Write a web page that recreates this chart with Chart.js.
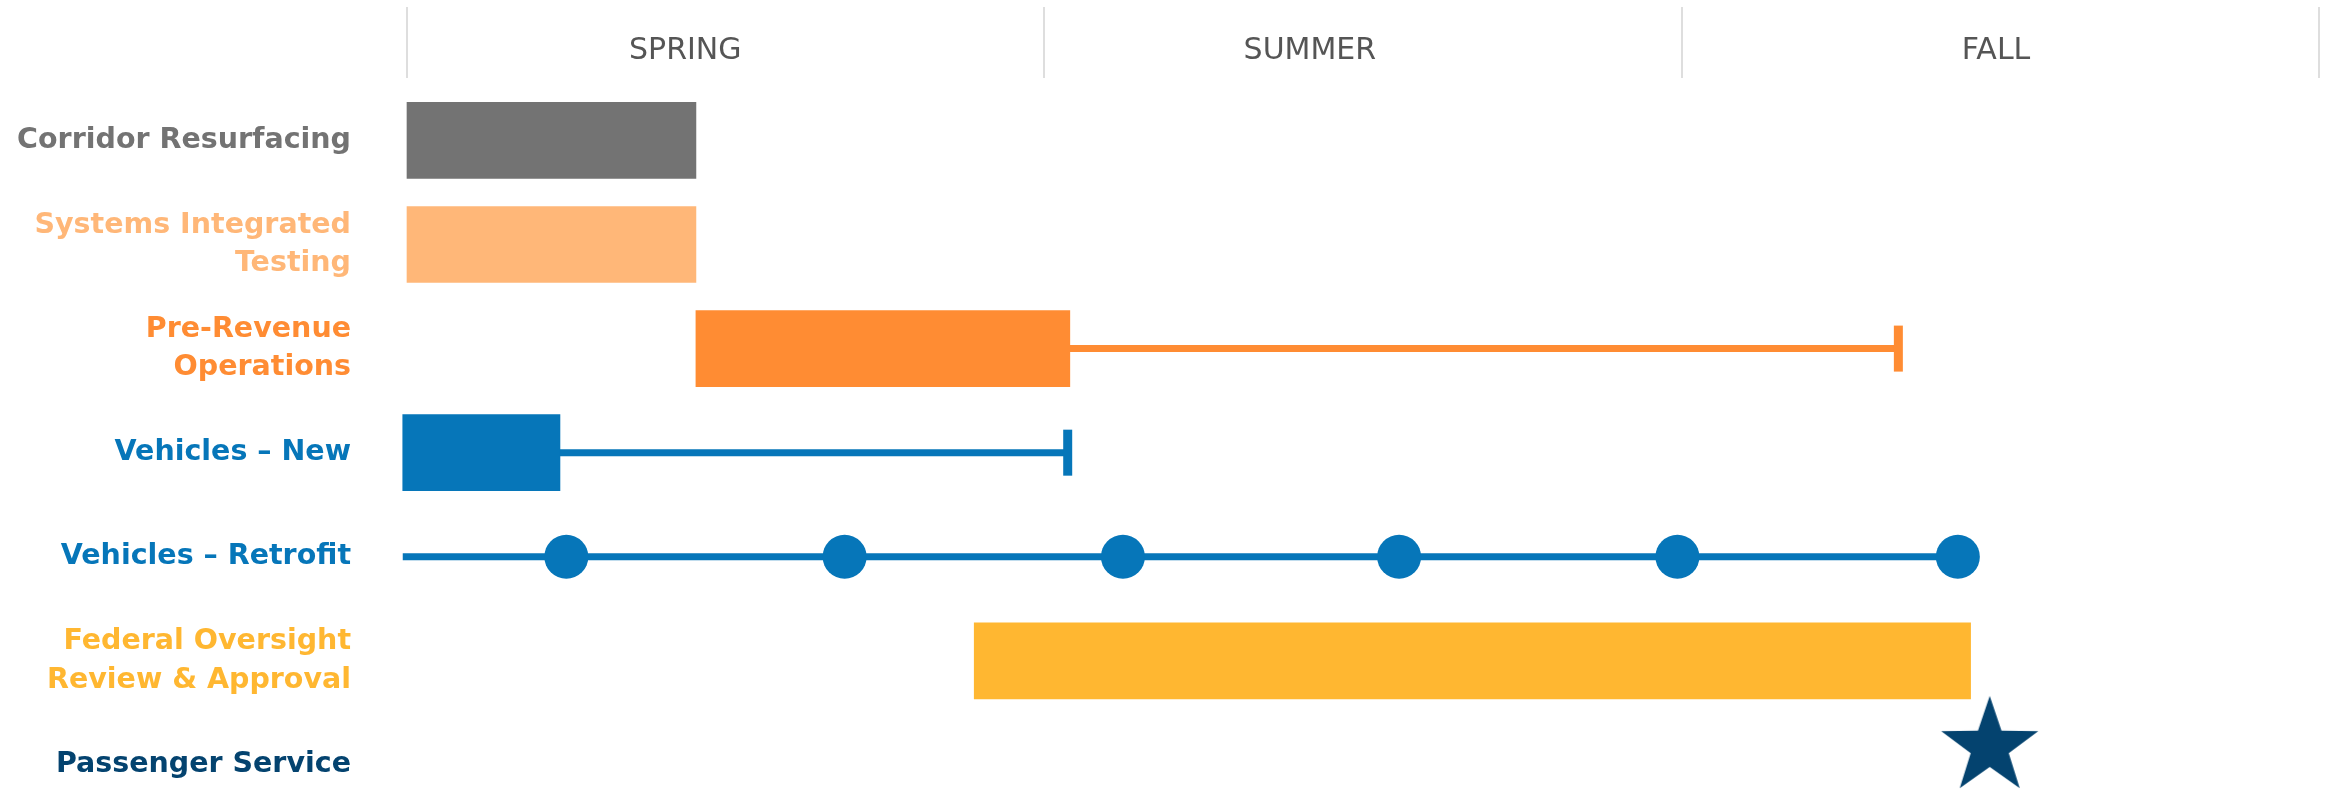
<!DOCTYPE html>
<html>
<head>
<meta charset="utf-8">
<title>Timeline</title>
<script src="https://cdn.jsdelivr.net/npm/chart.js@4.4.1/dist/chart.umd.min.js"></script>
<style>
    html, body { margin: 0; padding: 0; background: #fff; }
    canvas { display: block; }
</style>
</head>
<body>
<canvas id="mycanvas" width="2328" height="793"></canvas>
<script>
// x values are months counted from the start of spring (3 months per season)
var seasons = ['SPRING', 'SUMMER', 'FALL'];
var seasonBounds = [0, 3, 6, 9];
var seasonLabelAt = [1.31, 4.25, 7.48];

var tasks = [
    'Corridor Resurfacing',
    ['Systems Integrated', 'Testing'],
    ['Pre-Revenue', 'Operations'],
    'Vehicles \u2013 New',
    'Vehicles \u2013 Retrofit',
    ['Federal Oversight', 'Review & Approval'],
    'Passenger Service'
];
var taskColors = ['#737373', '#ffb778', '#ff8c33', '#0676b9', '#0676b9', '#ffb731', '#04436f'];

var barStart = [0, 0, 1.36, -0.02, null, 2.67, null];
var barEnd   = [1.36, 1.36, 3.12, 0.72, null, 7.36, null];
var extendTo = [null, null, 7.02, 3.11, null, null, null];

var retrofitStart = -0.02;
var retrofitMilestones = [0.75, 2.06, 3.37, 4.67, 5.98, 7.30];
var serviceStart = 7.45;


function makeStar(color){
    var c = document.createElement('canvas');
    c.width = 110;
    c.height = 146;
    var g = c.getContext('2d');
    g.beginPath();
    for(var k = 0; k < 10; k++){
        var r = (k % 2 == 0) ? 51 : 20;
        var a = -Math.PI / 2 + k * Math.PI / 5;
        g.lineTo(55 + r * Math.cos(a), 55 + r * Math.sin(a));
    }
    g.closePath();
    g.fillStyle = color;
    g.fill();
    return c;
}


function createTimeline(){

    var bars = [];
    var barColors = [];
    for(var i = 0; i < tasks.length; i++){
        if(barStart[i] !== null){
            bars.push({x: [barStart[i], barEnd[i]], y: i});
            barColors.push(taskColors[i]);
        }
    }

    var datasets = [
        {
            type: 'bar',
            indexAxis: 'y',
            data: bars,
            backgroundColor: barColors,
            barThickness: 76,
            xAxisID: 'x',
            yAxisID: 'y',
            clip: false,
            order: 3
        }
    ];

    // whiskers after the bars
    for(var j = 0; j < tasks.length; j++){
        if(extendTo[j] !== null){
            datasets.push({
                type: 'line',
                indexAxis: 'x',
                data: [{x: barEnd[j], y: j}, {x: extendTo[j], y: j}],
                borderColor: taskColors[j],
                borderWidth: 7,
                pointStyle: 'line',
                pointRadius: [0, 23],
                pointHoverRadius: 0,
                pointBorderWidth: 9,
                pointBorderColor: taskColors[j],
                pointRotation: 90,
                xAxisID: 'x',
                yAxisID: 'y',
                clip: false,
                order: 1
            });
        }
    }

    // retrofit line with milestones
    var retro = [{x: retrofitStart, y: 4}];
    var retroRadius = [0];
    for(var m = 0; m < retrofitMilestones.length; m++){
        retro.push({x: retrofitMilestones[m], y: 4});
        retroRadius.push(22);
    }
    datasets.push({
        type: 'line',
        indexAxis: 'x',
        data: retro,
        borderColor: taskColors[4],
        borderWidth: 7,
        pointRadius: retroRadius,
        pointHoverRadius: 0,
        pointBackgroundColor: taskColors[4],
        pointBorderWidth: 0,
        xAxisID: 'x',
        yAxisID: 'y',
        clip: false,
        order: 1
    });

    // passenger service star
    datasets.push({
        type: 'line',
        indexAxis: 'x',
        data: [{x: serviceStart, y: 6}],
        showLine: false,
        pointStyle: makeStar(taskColors[6]),
        pointRadius: 10,
        pointHoverRadius: 0,
        xAxisID: 'x',
        yAxisID: 'y',
        clip: false,
        order: 0
    });

    var ctx = document.getElementById('mycanvas');

    var timeline = new Chart(ctx, {
        type: 'bar',
        data: { datasets: datasets },
        options: {
            indexAxis: 'y',
            responsive: false,
            animation: false,
            layout: { autoPadding: false, padding: { top: 0, right: 9, bottom: 0, left: 0 } },
            plugins: {
                legend: { display: false },
                tooltip: { enabled: false }
            },
            scales: {
                x: {
                    type: 'linear',
                    min: 0,
                    max: 9,
                    offset: false,
                    grid: { offset: false },
                    display: false
                },
                season: {
                    type: 'linear',
                    axis: 'x',
                    position: 'top',
                    min: 0,
                    max: 9,
                    offset: false,
                    afterBuildTicks: function(scale){
                        var t = [];
                        seasonBounds.forEach(function(v){ t.push({value: v}); });
                        seasonLabelAt.forEach(function(v){ t.push({value: v}); });
                        t.sort(function(a, b){ return a.value - b.value; });
                        scale.ticks = t;
                    },
                    afterFit: function(scale){
                        scale.height = 78;
                        scale.paddingLeft = 0;
                        scale.paddingRight = 0;
                    },
                    border: { display: false },
                    grid: {
                        offset: false,
                        drawOnChartArea: false,
                        tickLength: 71,
                        lineWidth: 2,
                        color: function(c){
                            return (c.tick && seasonBounds.indexOf(c.tick.value) < 0) ? 'rgba(0,0,0,0)' : '#dedede';
                        }
                    },
                    ticks: {
                        autoSkip: false,
                        maxRotation: 0,
                        padding: -62,
                        color: '#555555',
                        font: { family: 'DejaVu Sans', size: 30 },
                        callback: function(value){
                            var k = seasonLabelAt.indexOf(value);
                            return k < 0 ? '' : seasons[k];
                        }
                    }
                },
                y: {
                    type: 'linear',
                    min: -0.6,
                    max: 6.27,
                    reverse: true,
                    offset: false,
                    beginAtZero: false,
                    afterBuildTicks: function(scale){
                        scale.ticks = tasks.map(function(t, i){ return {value: i}; });
                    },
                    afterFit: function(scale){
                        scale.width = 407;
                        scale.paddingTop = 0;
                        scale.paddingBottom = 0;
                    },
                    border: { display: false },
                    grid: { display: false, offset: false },
                    ticks: {
                        autoSkip: false,
                        padding: 48,
                        color: function(c){ return taskColors[c.index]; },
                        font: { family: 'DejaVu Sans', weight: 'bold', size: 28.5, lineHeight: 1.36 },
                        callback: function(value){ return tasks[value]; }
                    }
                }
            }
        }
    });
}

createTimeline();
</script>
</body>
</html>
